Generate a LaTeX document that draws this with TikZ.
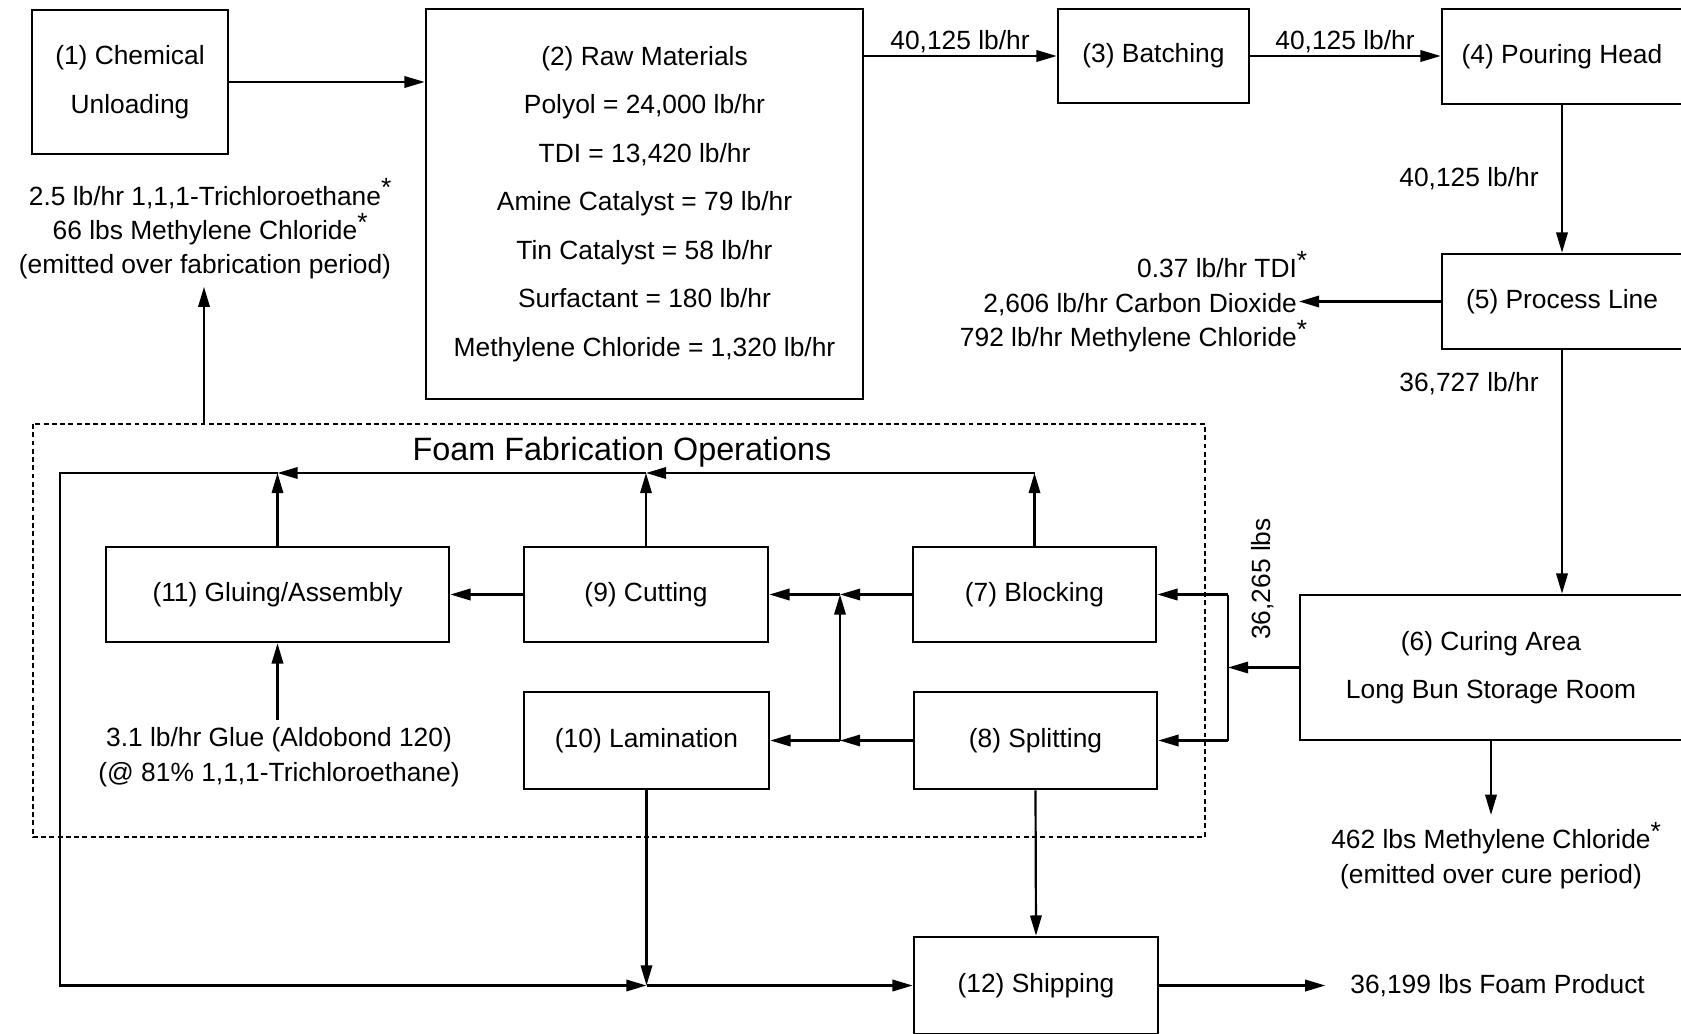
\documentclass[tikz,border=0pt]{standalone}
\usepackage{fontspec}
\setmainfont{Liberation Sans}
\usepackage{tikz}
\usetikzlibrary{arrows.meta}
\newlength\px
\setlength\px{0.02cm}
\newcommand\emstar{\rlap{\raisebox{0.6ex}{*}}}

\begin{document}
\begin{tikzpicture}[x=0.02cm, y=-0.02cm,
  font=\fontsize{15}{17}\selectfont,
  unit/.style={draw, line width=1.5pt, inner sep=0pt, align=center},
  tall/.style={font=\fontsize{15}{27.6}\selectfont},
  note/.style={inner sep=4pt, align=center, font=\fontsize{15}{19.6}\selectfont},
  flow/.style={line width=1.25pt, -{Triangle[length=11.5pt,width=6.5pt]}},
  plain/.style={line width=1.25pt}]
\useasboundingbox (0,0) rectangle (1681,1034);
\clip (0,0) rectangle (1681,1034);
\coordinate (a) at (130,82);
\coordinate (b) at (644.5,204);
\coordinate (c) at (1153.5,56);
\coordinate (d) at (1562,56.5);
\coordinate (e) at (1562,301.5);
\coordinate (f) at (1491,667.5);
\coordinate (g) at (1034.5,594.5);
\coordinate (h) at (1035.5,740.5);
\coordinate (i) at (646,594.5);
\coordinate (j) at (646.5,740.5);
\coordinate (k) at (277.5,594.5);
\coordinate (l) at (1036,985.5);
% draws the fabrication frame
\draw[line width=0.9pt, dash pattern=on 2.8pt off 1.9pt] (33,424) rectangle (1205,837);
\node[font=\fontsize{18.4}{20}\selectfont] (fab) at (622,452) {Foam Fabrication Operations};
% draws boxes
\node[unit, tall, minimum width=196\px, minimum height=144\px] (chem) at (a) {(1) Chemical\\Unloading};
\node[unit, tall, minimum width=437\px, minimum height=390\px] (raw) at (b) {(2) Raw Materials\\Polyol = 24,000 lb/hr\\TDI = 13,420 lb/hr\\Amine Catalyst = 79 lb/hr\\Tin Catalyst = 58 lb/hr\\Surfactant = 180 lb/hr\\Methylene Chloride = 1,320 lb/hr};
\node[unit, minimum width=191\px, minimum height=94\px] (batch) at (c) {(3) Batching};
\node[unit, minimum width=240\px, minimum height=95\px] (pour) at (d) {(4) Pouring Head};
\node[unit, minimum width=240\px, minimum height=95\px] (line) at (e) {(5) Process Line};
\node[unit, tall, minimum width=382\px, minimum height=145\px] (cure) at (f) {(6) Curing Area\\Long Bun Storage Room};
\node[unit, minimum width=243\px, minimum height=95\px] (block) at (g) {(7) Blocking};
\node[unit, minimum width=243\px, minimum height=97\px] (split) at (h) {(8) Splitting};
\node[unit, minimum width=244\px, minimum height=95\px] (cut) at (i) {(9) Cutting};
\node[unit, minimum width=245\px, minimum height=97\px] (lam) at (j) {(10) Lamination};
\node[unit, minimum width=343\px, minimum height=95\px] (glue) at (k) {(11) Gluing/Assembly};
\node[unit, minimum width=244\px, minimum height=97\px] (ship) at (l) {(12) Shipping};
% labels emissions and products
\node[note] (fabemit) at (205,229) {2.5 lb/hr 1,1,1-Trichloroethane\emstar\\66 lbs Methylene Chloride\emstar\\(emitted over fabrication period)};
\node[note, inner sep=1pt, align=right, anchor=east] (lineemit) at (1299,301.5) {0.37 lb/hr TDI\emstar\\2,606 lb/hr Carbon Dioxide\\792 lb/hr Methylene Chloride\emstar};
\node[note] (glueadd) at (279,757) {3.1 lb/hr Glue (Aldobond 120)\\(@ 81\% 1,1,1-Trichloroethane)};
\node[note] (cureemit) at (1491,855.5) {462 lbs Methylene Chloride\emstar\\(emitted over cure period)};
\node[note, anchor=west] (product) at (1343,985.5) {36,199 lbs Foam Product};
% labels flows
\node (f23) at (960,42) {40,125 lb/hr};
\node (f34) at (1345,42) {40,125 lb/hr};
\node (f45) at (1469,179) {40,125 lb/hr};
\node (f56) at (1469,384) {36,727 lb/hr};
\node[rotate=90] (f67) at (1263,579) {36,265 lbs};
% junctions
\coordinate (r7) at (1228,594.5);
\coordinate (r8) at (1228,740.5);
\coordinate (m7) at (840,594.5);
\coordinate (m8) at (840,740.5);
\coordinate (t7) at (1034.5,473);
\coordinate (t9) at (646,473);
\coordinate (t11) at (277.5,473);
\coordinate (tl) at (60,473);
\coordinate (bl) at (60,985.5);
\coordinate (b10) at (646.5,985.5);
\coordinate (up) at (204,424);
% draws arrows
\draw[flow] (chem.east) -- (chem.east -| raw.west);
\draw[flow] (batch.west -| raw.east) -- (batch.west);
\draw[flow] (batch.east) -- (batch.east -| pour.west);
\draw[flow] (pour.south) -- (line.north);
\draw[flow] (line.west) -- (lineemit.east);
\draw[flow] (line.south) -- (line.south |- cure.north);
\draw[flow] (cure.south) -- (cureemit.north);
\draw[flow] (cure.west) -- (cure.west -| r7);
\draw[plain] (r7) -- (r8);
\draw[flow] (r7) -- (block.east);
\draw[flow] (r8) -- (split.east);
\draw[flow] (block.west) -- (m7);
\draw[flow] (m7) -- (cut.east);
\draw[flow] (split.west) -- (m8);
\draw[flow] (m8) -- (lam.east);
\draw[flow] (m8) -- (m7);
\draw[flow] (cut.west) -- (glue.east);
\draw[flow] (glueadd.north -| glue.south) -- (glue.south);
\draw[flow] (block.north) -- (t7);
\draw[flow] (t7) -- (t9);
\draw[flow] (cut.north) -- (t9);
\draw[flow] (t9) -- (t11);
\draw[flow] (glue.north) -- (t11);
\draw[flow] (t11) -- (tl) -- (bl) -- (b10);
\draw[flow] (lam.south) -- (b10);
\draw[flow] (b10) -- (ship.west);
\draw[flow] (split.south) -- (ship.north);
\draw[flow] (ship.east) -- ++(166,0);
\draw[flow] (up) -- (up |- fabemit.south);
\end{tikzpicture}
\end{document}
